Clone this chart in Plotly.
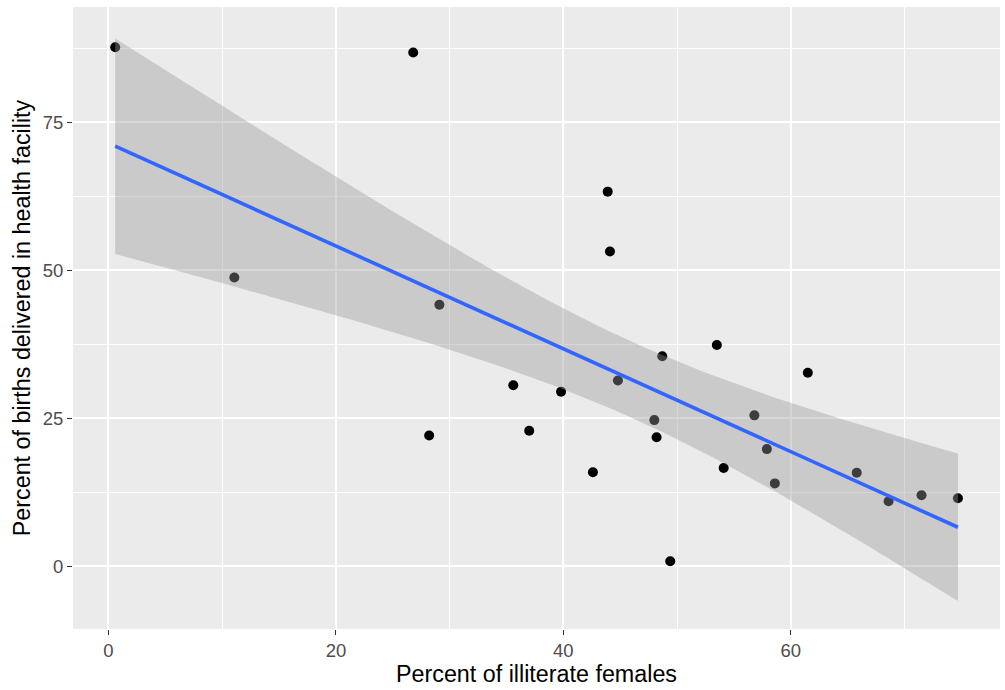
import numpy as np
import plotly.graph_objects as go

# Data
illiterate_females = [0.59, 26.8, 11.07, 29.1, 43.9, 44.1, 53.5, 48.7, 44.8, 35.6,
                      39.8, 56.8, 48.0, 28.2, 37.0, 48.2, 57.9, 42.6, 54.1, 58.6,
                      49.4, 61.5, 65.8, 68.6, 71.5, 74.7]
births_facility = [87.7, 86.8, 48.8, 44.2, 63.3, 53.2, 37.4, 35.5, 31.4, 30.6,
                   29.5, 25.5, 24.7, 22.1, 22.9, 21.8, 19.8, 15.9, 16.6, 14.0,
                   0.85, 32.7, 15.8, 11.0, 12.0, 11.5]
x_ticks = [0, 20, 40, 60]
y_ticks = [0, 25, 50, 75]

# linear fit with 95% confidence band (like geom_smooth(method="lm"))
x = np.array(illiterate_females)
y = np.array(births_facility)
n = len(x)
b1, b0 = np.polyfit(x, y, 1)
resid = y - (b0 + b1 * x)
s = np.sqrt(np.sum(resid ** 2) / (n - 2))
T_CRIT = 2.0639  # t(0.975, df=24)
xs = np.linspace(x.min(), x.max(), 80)
fit = b0 + b1 * xs
se = s * np.sqrt(1.0 / n + (xs - x.mean()) ** 2 / np.sum((x - x.mean()) ** 2))
lo = fit - T_CRIT * se
hi = fit + T_CRIT * se

fig = go.Figure()
fig.add_trace(go.Scatter(
    x=illiterate_females, y=births_facility, mode="markers",
    marker=dict(color="black", size=10, line=dict(width=0)),
    showlegend=False, hoverinfo="x+y"))
fig.add_trace(go.Scatter(
    x=np.concatenate([xs, xs[::-1]]), y=np.concatenate([hi, lo[::-1]]),
    mode="lines", fill="toself", fillcolor="rgba(153,153,153,0.4)",
    line=dict(width=0), showlegend=False, hoverinfo="skip"))
fig.add_trace(go.Scatter(
    x=xs, y=fit, mode="lines", line=dict(color="#3366FF", width=3.6),
    showlegend=False, hoverinfo="skip"))

FONT = "Liberation Sans, Arial, sans-serif"
axis_common = dict(
    showgrid=True, gridcolor="white", gridwidth=2,
    zeroline=False, showline=False,
    ticks="outside", ticklen=5, tickwidth=1, tickcolor="#333333",
    tickfont=dict(family=FONT, size=18.5, color="#4D4D4D"),
    title_font=dict(family=FONT, size=23.3, color="black"),
)

fig.update_layout(
    width=1005, height=690,
    paper_bgcolor="white", plot_bgcolor="#EBEBEB",
    margin=dict(l=73, r=5, t=7, b=61),
    xaxis=dict(range=[-3.12, 78.4], tickvals=x_ticks,
               ticktext=[str(v) for v in x_ticks],
               minor=dict(tickvals=[10, 30, 50, 70], showgrid=True,
                          gridcolor="white", gridwidth=1, ticks=""),
               title=dict(text="Percent of illiterate females", standoff=3),
               **axis_common),
    yaxis=dict(range=[-10.6, 94.5], tickvals=y_ticks,
               ticktext=[str(v) for v in y_ticks],
               minor=dict(tickvals=[-12.5, 12.5, 37.5, 62.5, 87.5], showgrid=True,
                          gridcolor="white", gridwidth=1, ticks=""),
               title=dict(text="Percent of births delivered in health facility", standoff=5),
               **axis_common),
)

fig.write_html("out.html")
